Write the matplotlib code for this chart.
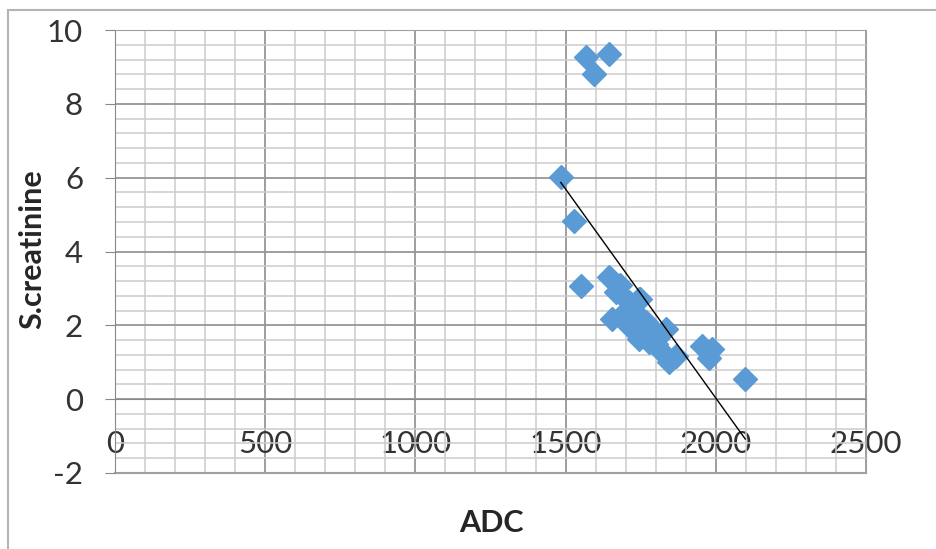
import numpy as np
import matplotlib.pyplot as plt
from matplotlib.patches import Rectangle
from matplotlib.ticker import MultipleLocator

plt.rcParams['font.family'] = ['Lato', 'DejaVu Sans']

# ADC vs serum creatinine
adc = [1567, 1643, 1594, 1484, 1527, 1552, 1643, 1680, 1667, 1654,
       1710, 1720, 1743, 1748, 1700, 1730, 1743, 1766, 1710, 1776,
       1786, 1743, 1810, 1833, 1820, 1843, 1866, 1953, 1986, 1976,
       2098, 1760, 1800]
creat = [9.27, 9.35, 8.80, 6.02, 4.82, 3.06, 3.30, 3.10, 2.90, 2.17,
         2.63, 2.45, 2.70, 2.70, 2.40, 2.30, 2.25, 2.08, 1.98, 1.54,
         1.90, 1.63, 1.70, 1.90, 1.27, 1.00, 1.17, 1.44, 1.35, 1.12,
         0.54, 1.80, 1.50]

# linear trendline as drawn on the chart
trend_slope = -0.01132
trend_intercept = 22.67

xticks = [0, 500, 1000, 1500, 2000, 2500]
yticks = [-2, 0, 2, 4, 6, 8, 10]

fig = plt.figure(figsize=(9.36, 5.49), dpi=100)
ax = fig.add_axes([115 / 936, 1 - 473 / 549, 751 / 936, 443 / 549])

ax.set_xlim(0, 2500)
ax.set_ylim(-2, 10)
ax.xaxis.set_major_locator(MultipleLocator(500))
ax.xaxis.set_minor_locator(MultipleLocator(100))
ax.yaxis.set_major_locator(MultipleLocator(2))
ax.yaxis.set_minor_locator(MultipleLocator(0.4))
ax.grid(which='major', color='#969696', lw=1.3)
ax.grid(which='minor', color='#cccccc', lw=1.1)
ax.set_axisbelow(True)

for s in ['top', 'right']:
    ax.spines[s].set_color('#a0a0a0')
ax.spines['left'].set_color('#888888')
ax.spines['bottom'].set_color('#888888')
ax.spines['bottom'].set_position(('data', 0))
ax.axhline(-2, color='#a0a0a0', lw=1.5, clip_on=False)

ax.set_xticks(xticks)
ax.set_yticks(yticks)
ax.set_xticklabels([str(v) for v in xticks])
ax.set_yticklabels([str(v) for v in yticks])
ax.tick_params(axis='x', which='both', length=0, pad=22, labelsize=22.5, labelcolor='#333333')
ax.tick_params(axis='y', which='major', length=7, color='#888888', pad=16, labelsize=22.5, labelcolor='#333333')
ax.tick_params(axis='y', which='minor', length=0)

ax.plot(adc, creat, 'D', color='#5B9BD5', ms=12.5, mec='#5B9BD5', zorder=3)

tx = np.array([min(adc), max(adc)])
ax.plot(tx, trend_slope * tx + trend_intercept, color='black', lw=1.0, zorder=4)

fig.text(32 / 936, 1 - 249 / 549, 'S.creatinine', rotation=90, ha='center', va='center',
         fontsize=22, fontweight='bold', color='#262626')
fig.text(491 / 936, 1 - 523 / 549, 'ADC', ha='center', va='center',
         fontsize=22, fontweight='bold', color='#262626')

fig.patches.append(Rectangle((8 / 936, -0.05), 1.0, 1 - 10 / 549 + 0.05, transform=fig.transFigure,
                             fill=False, ec='#b4b4b4', lw=1.5))

fig.savefig('out.png', dpi=100)
